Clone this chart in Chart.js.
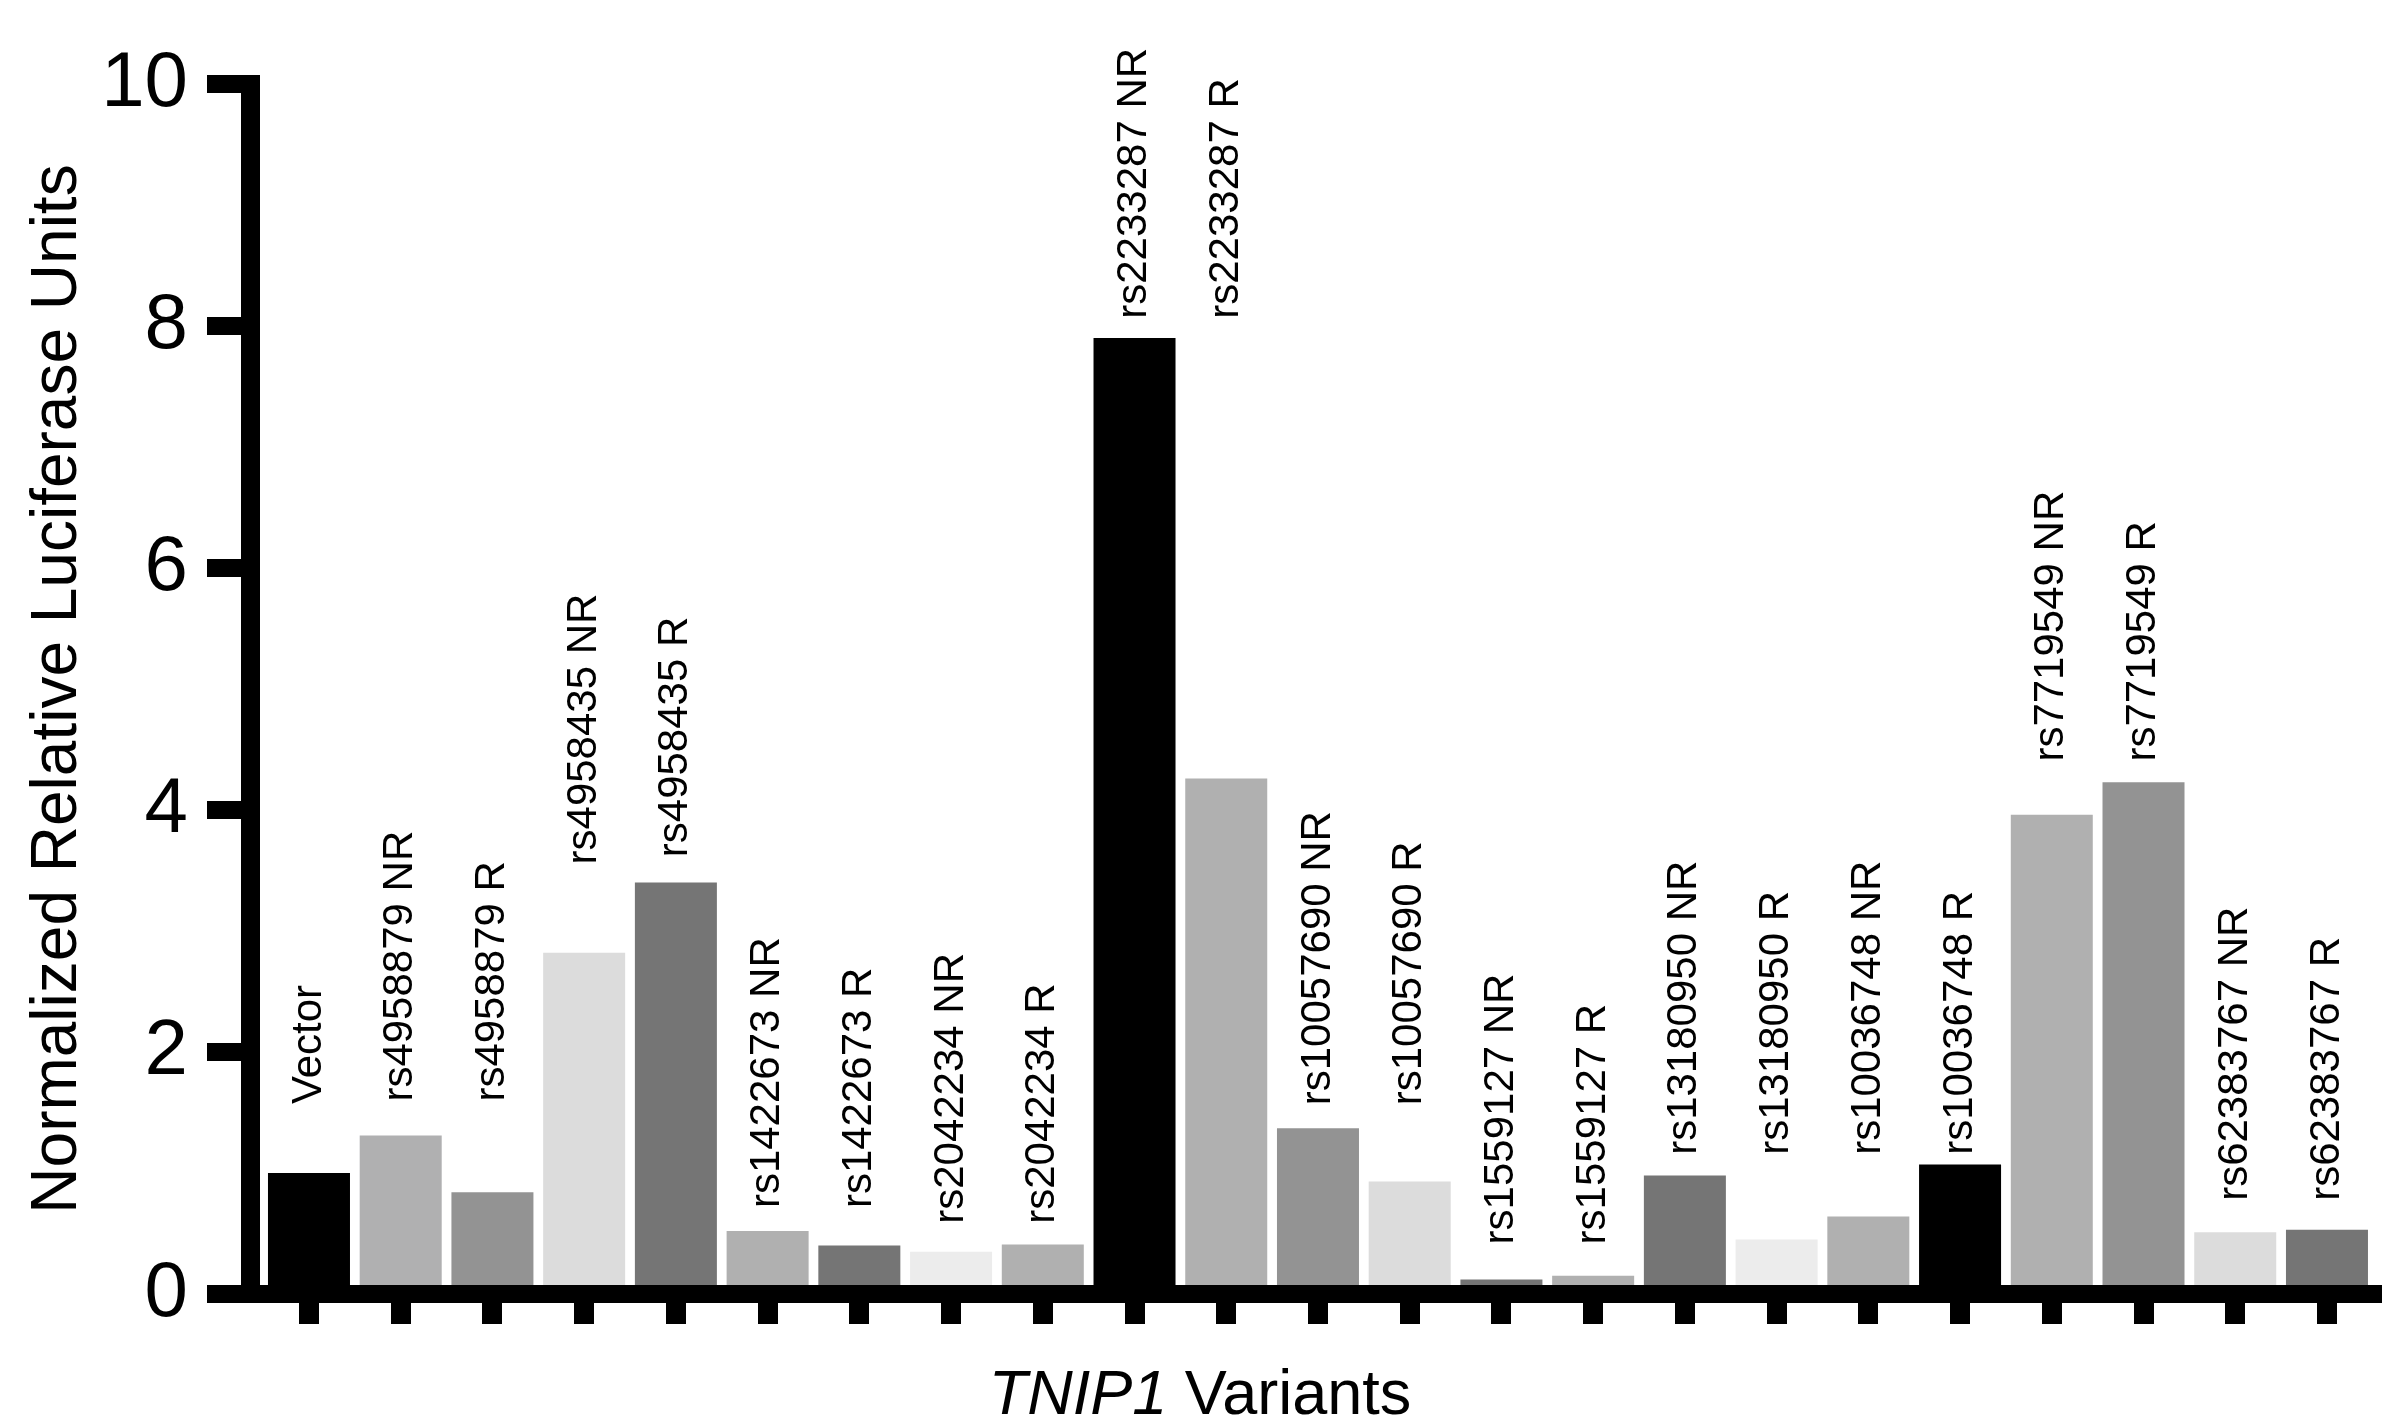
<!DOCTYPE html>
<html>
<head>
<meta charset="utf-8">
<script src="https://cdn.jsdelivr.net/npm/chart.js@4.4.1/dist/chart.umd.min.js"></script>
<style>
  html, body { margin: 0; padding: 0; background: #fff; }
  #wrap { width: 2382px; height: 1421px; }
</style>
</head>
<body>
<div id="wrap"><canvas id="chart"></canvas></div>
<script>
// Variants tested in the luciferase assay
const variants = [
    'Vector',
    'rs4958879 NR', 'rs4958879 R',
    'rs4958435 NR', 'rs4958435 R',
    'rs1422673 NR', 'rs1422673 R',
    'rs2042234 NR', 'rs2042234 R',
    'rs2233287 NR', 'rs2233287 R',
    'rs10057690 NR', 'rs10057690 R',
    'rs1559127 NR', 'rs1559127 R',
    'rs13180950 NR', 'rs13180950 R',
    'rs10036748 NR', 'rs10036748 R',
    'rs7719549 NR', 'rs7719549 R',
    'rs62383767 NR', 'rs62383767 R'
];

// Normalized relative luciferase units
const luciferase = [
    1.00,
    1.31, 0.84,
    2.82, 3.40,
    0.52, 0.40,
    0.35, 0.41,
    7.90, 4.26,
    1.37, 0.93,
    0.12, 0.15,
    0.98, 0.45,
    0.64, 1.07,
    3.96, 4.23,
    0.51, 0.53
];

// Height (in y units) where each rotated label starts
const labelStart = [
    1.57,
    1.59, 1.59,
    3.55, 3.61,
    0.71, 0.71,
    0.58, 0.58,
    8.06, 8.06,
    1.56, 1.56,
    0.41, 0.41,
    1.15, 1.15,
    1.15, 1.15,
    4.40, 4.40,
    0.77, 0.77
];

const barColors = [
    '#000000',
    '#b0b0b1', '#939393',
    '#dcdcdc', '#757575',
    '#b0b0b0', '#757575',
    '#ececec', '#b0b0b0',
    '#000000', '#b0b0b0',
    '#939393', '#dcdcdc',
    '#757575', '#b0b0b0',
    '#757575', '#ececec',
    '#b0b0b0', '#000000',
    '#b0b0b0', '#939393',
    '#dcdcdc', '#757575'
];

const yTicks = [0, 2, 4, 6, 8, 10];

const FONT = '"Liberation Sans", Arial, Helvetica, sans-serif';
Chart.defaults.font.family = FONT;
Chart.defaults.color = '#000';

// Rotated variant names above the bars
const barLabels = {
    id: 'barLabels',
    afterDatasetsDraw(chart) {
        const { ctx, scales: { x, y } } = chart;
        ctx.save();
        ctx.font = '42px ' + FONT;
        ctx.fillStyle = '#000';
        ctx.textAlign = 'left';
        ctx.textBaseline = 'middle';
        variants.forEach((name, i) => {
            ctx.save();
            ctx.translate(x.getPixelForValue(i), y.getPixelForValue(labelStart[i]));
            ctx.rotate(-Math.PI / 2);
            ctx.fillText(name, 0, 0);
            ctx.restore();
        });
        ctx.restore();
    }
};

// x axis title with the italic gene name
const xTitle = {
    id: 'xTitle',
    afterDraw(chart) {
        const ctx = chart.ctx;
        const italic = 'italic 63px ' + FONT;
        const normal = '63px ' + FONT;
        ctx.save();
        ctx.font = italic;
        const w1 = ctx.measureText('TNIP1').width;
        ctx.font = normal;
        const w2 = ctx.measureText(' Variants').width;
        const x0 = 1200 - (w1 + w2) / 2;
        const y0 = chart.height - 7;
        ctx.fillStyle = '#000';
        ctx.textAlign = 'left';
        ctx.textBaseline = 'alphabetic';
        ctx.font = italic;
        ctx.fillText('TNIP1', x0, y0);
        ctx.font = normal;
        ctx.fillText(' Variants', x0 + w1, y0);
        ctx.restore();
    }
};

const ctx = document.getElementById('chart').getContext('2d');
new Chart(ctx, {
    type: 'bar',
    data: {
        datasets: [{
            data: luciferase.map((v, i) => ({ x: i, y: v })),
            backgroundColor: barColors,
            borderWidth: 0,
            categoryPercentage: 1,
            barPercentage: 0.894
        }]
    },
    options: {
        responsive: true,
        maintainAspectRatio: false,
        animation: false,
        layout: { padding: { top: 84, left: 0, right: 0, bottom: 0 } },
        plugins: {
            legend: { display: false },
            tooltip: { enabled: false }
        },
        scales: {
            x: {
                type: 'linear',
                min: -0.643,
                max: 22.6,
                offset: false,
                border: { display: true, color: '#000', width: 18 },
                grid: {
                    offset: false,
                    drawOnChartArea: false,
                    drawTicks: true,
                    tickLength: 30,
                    lineWidth: 20,
                    color: '#000'
                },
                ticks: { display: false, stepSize: 1, includeBounds: false },
                afterFit(scale) { scale.height = 127; }
            },
            y: {
                min: 0,
                max: 10,
                border: { display: true, color: '#000', width: 19 },
                grid: {
                    drawOnChartArea: false,
                    drawTicks: true,
                    tickLength: 43,
                    lineWidth: 18,
                    color: '#000'
                },
                ticks: {
                    font: { size: 78 },
                    padding: 19,
                    color: '#000'
                },
                afterBuildTicks(scale) { scale.ticks = yTicks.map(v => ({ value: v })); },
                title: {
                    display: true,
                    text: 'Normalized Relative Luciferase Units',
                    font: { size: 64 },
                    color: '#000',
                    padding: { top: 20, bottom: 0 }
                },
                afterFit(scale) { scale.width = 250; }
            }
        }
    },
    plugins: [barLabels, xTitle]
});
</script>
</body>
</html>
